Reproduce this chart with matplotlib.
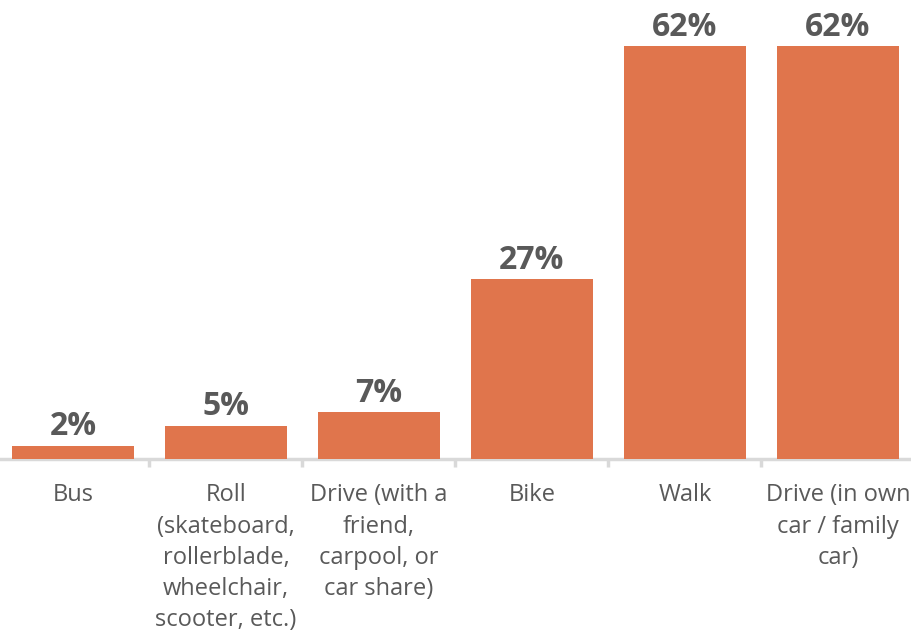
import matplotlib
matplotlib.use("Agg")
import matplotlib.pyplot as plt
import numpy as np

categories = ["Bus", "Roll\n(skateboard,\nrollerblade,\nwheelchair,\nscooter, etc.)",
              "Drive (with a\nfriend,\ncarpool, or\ncar share)", "Bike", "Walk",
              "Drive (in own\ncar / family\ncar)"]
values = [2, 5, 7, 27, 62, 62]
value_labels = ["2%", "5%", "7%", "27%", "62%", "62%"]

plt.rcParams['font.family'] = ['Open Sans', 'DejaVu Sans']

fig = plt.figure(figsize=(9.12, 6.37), dpi=100)
ax = fig.add_axes([0, 0.2794, 1, 0.7206])

x = np.arange(len(categories))
bars = ax.bar(x, values, width=0.8, color="#E0754C", zorder=2)

ax.set_xlim(-0.477, 5.484)
ax.set_ylim(0, 68.9)

for xi, v, lab in zip(x, values, value_labels):
    ax.annotate(lab, (xi, v), xytext=(0, 7.5), textcoords="offset points",
                ha="center", va="baseline", fontsize=23, fontweight="bold",
                color="#595959")

for s in ["top", "right", "left"]:
    ax.spines[s].set_visible(False)
ax.spines["bottom"].set_color("#D9D9D9")
ax.spines["bottom"].set_linewidth(2.5)
ax.spines["bottom"].set_position(("data", 0))
ax.spines["bottom"].set_zorder(1)

ax.set_yticks([])
ax.set_xticks(x)
ax.set_xticklabels(categories, fontsize=17, color="#595959", linespacing=1.4,
                   va="top")
ax.tick_params(axis="x", length=0, pad=17.5)
ax.set_xticks(x[:-1] + 0.5, minor=True)
ax.tick_params(axis="x", which="minor", length=6, width=2.5, color="#D9D9D9")

fig.savefig("out.png", dpi=100)
